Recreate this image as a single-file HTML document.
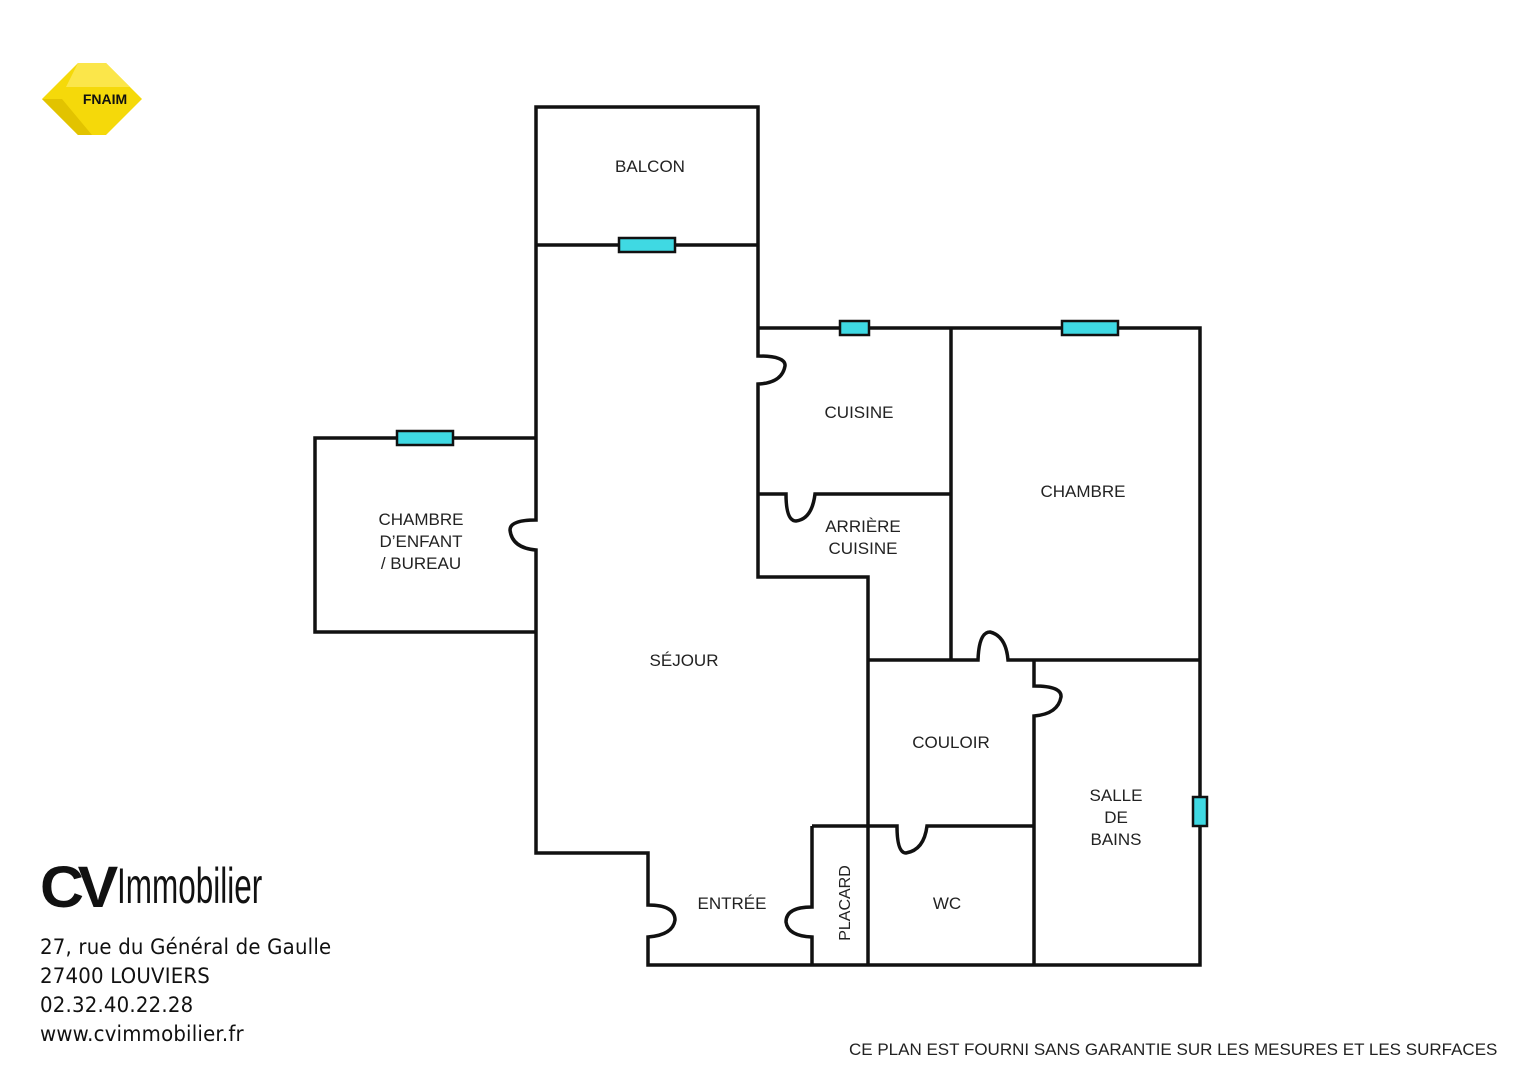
<!DOCTYPE html>
<html><head><meta charset="utf-8"><style>
html,body{margin:0;padding:0;background:#fff;}
body{width:1526px;height:1080px;position:relative;overflow:hidden;font-family:"Liberation Sans",sans-serif;}
.t{position:absolute;color:#222;}
</style></head><body>
<svg width="1526" height="1080" style="position:absolute;left:0;top:0">
<polygon points="42,99 78,63 106,63 142,99 106,135 78,135" fill="#f5d90a"/>
<polygon points="78,63 106,63 130,87 66,87 " fill="#fbe64a"/>
<polygon points="42,99 78,135 92,135 62,99" fill="#e2c300"/>
<text x="105" y="104" font-family="Liberation Sans" font-weight="bold" font-size="14" fill="#111" text-anchor="middle">FNAIM</text>
<g fill="none" stroke="#111" stroke-width="3.5" stroke-linejoin="miter">
<path d="M536 245 V107 H758 V245"/>
<path d="M536 245 H758"/>
<path d="M536 438 H315 V632 H536"/>
<path d="M536 245 V520 Q510 520 510 530 Q512 548 536 550 V853 H648 V905 Q675 905 675 920 Q673 935 648 937 V965 H1200 V328 H758"/>
<path d="M758 245 V356 Q786 356 785 366 Q782 383 758 384 V577 H868 V965"/>
<path d="M951 328 V660"/>
<path d="M758 494 H786 Q786 521 796 521 Q812 519 815 494 H951"/>
<path d="M868 660 H978 Q979 632 990 632 Q1006 636 1008 660 H1200"/>
<path d="M1034 660 V686 Q1062 686 1061 697 Q1058 714 1034 716 V965"/>
<path d="M812 826 H897 Q897 853 906 853 Q924 850 927 826 H1034"/>
<path d="M812 826 V907 Q786 907 786 922 Q788 936 812 937 V965"/>
</g>
<g fill="#3fd9e3" stroke="#111" stroke-width="2.5">
<rect x="619" y="238" width="56" height="14"/>
<rect x="397" y="431" width="56" height="14"/>
<rect x="840" y="321" width="29" height="14"/>
<rect x="1062" y="321" width="56" height="14"/>
<rect x="1193" y="797" width="14" height="29"/>
</g>
<text x="846" y="903" transform="rotate(-90 846 903)" font-family="Liberation Sans" font-size="16" fill="#222" text-anchor="middle" dominant-baseline="middle">PLACARD</text>
</svg>
<div class="t" style="left:600px;top:157px;width:100px;text-align:center;font-size:17px">BALCON</div>
<div class="t" style="left:809px;top:403px;width:100px;text-align:center;font-size:17px">CUISINE</div>
<div class="t" style="left:1023px;top:482px;width:120px;text-align:center;font-size:17px">CHAMBRE</div>
<div class="t" style="left:803px;top:516px;width:120px;text-align:center;font-size:17px;line-height:22px">ARRIÈRE<br>CUISINE</div>
<div class="t" style="left:351px;top:509px;width:140px;text-align:center;font-size:17px;line-height:22px">CHAMBRE<br>D’ENFANT<br>/ BUREAU</div>
<div class="t" style="left:624px;top:651px;width:120px;text-align:center;font-size:17px">SÉJOUR</div>
<div class="t" style="left:891px;top:733px;width:120px;text-align:center;font-size:17px">COULOIR</div>
<div class="t" style="left:1056px;top:785px;width:120px;text-align:center;font-size:17px;line-height:22px">SALLE<br>DE<br>BAINS</div>
<div class="t" style="left:672px;top:894px;width:120px;text-align:center;font-size:17px">ENTRÉE</div>
<div class="t" style="left:887px;top:894px;width:120px;text-align:center;font-size:17px">WC</div>
<div class="t" style="left:40px;top:858px;font-size:58px;font-weight:900;letter-spacing:-6px;color:#111;line-height:60px;font-family:'Liberation Sans',sans-serif;transform:scaleX(1.05);transform-origin:left">CV</div>
<div class="t" style="left:117px;top:856px;font-size:50px;color:#111;line-height:60px;transform:scaleX(0.63);transform-origin:left;font-weight:normal">Immobilier</div>
<div class="t" style="left:40px;top:933px;font-size:21px;line-height:29px;color:#111;font-family:'DejaVu Sans',sans-serif;letter-spacing:0.2px;transform:scaleX(0.94);transform-origin:left">27, rue du Général de Gaulle<br>27400 LOUVIERS<br>02.32.40.22.28<br>www.cvimmobilier.fr</div>
<div class="t" style="left:849px;top:1040px;font-size:17px;color:#222;white-space:nowrap">CE PLAN EST FOURNI SANS GARANTIE SUR LES MESURES ET LES SURFACES</div>
</body></html>
